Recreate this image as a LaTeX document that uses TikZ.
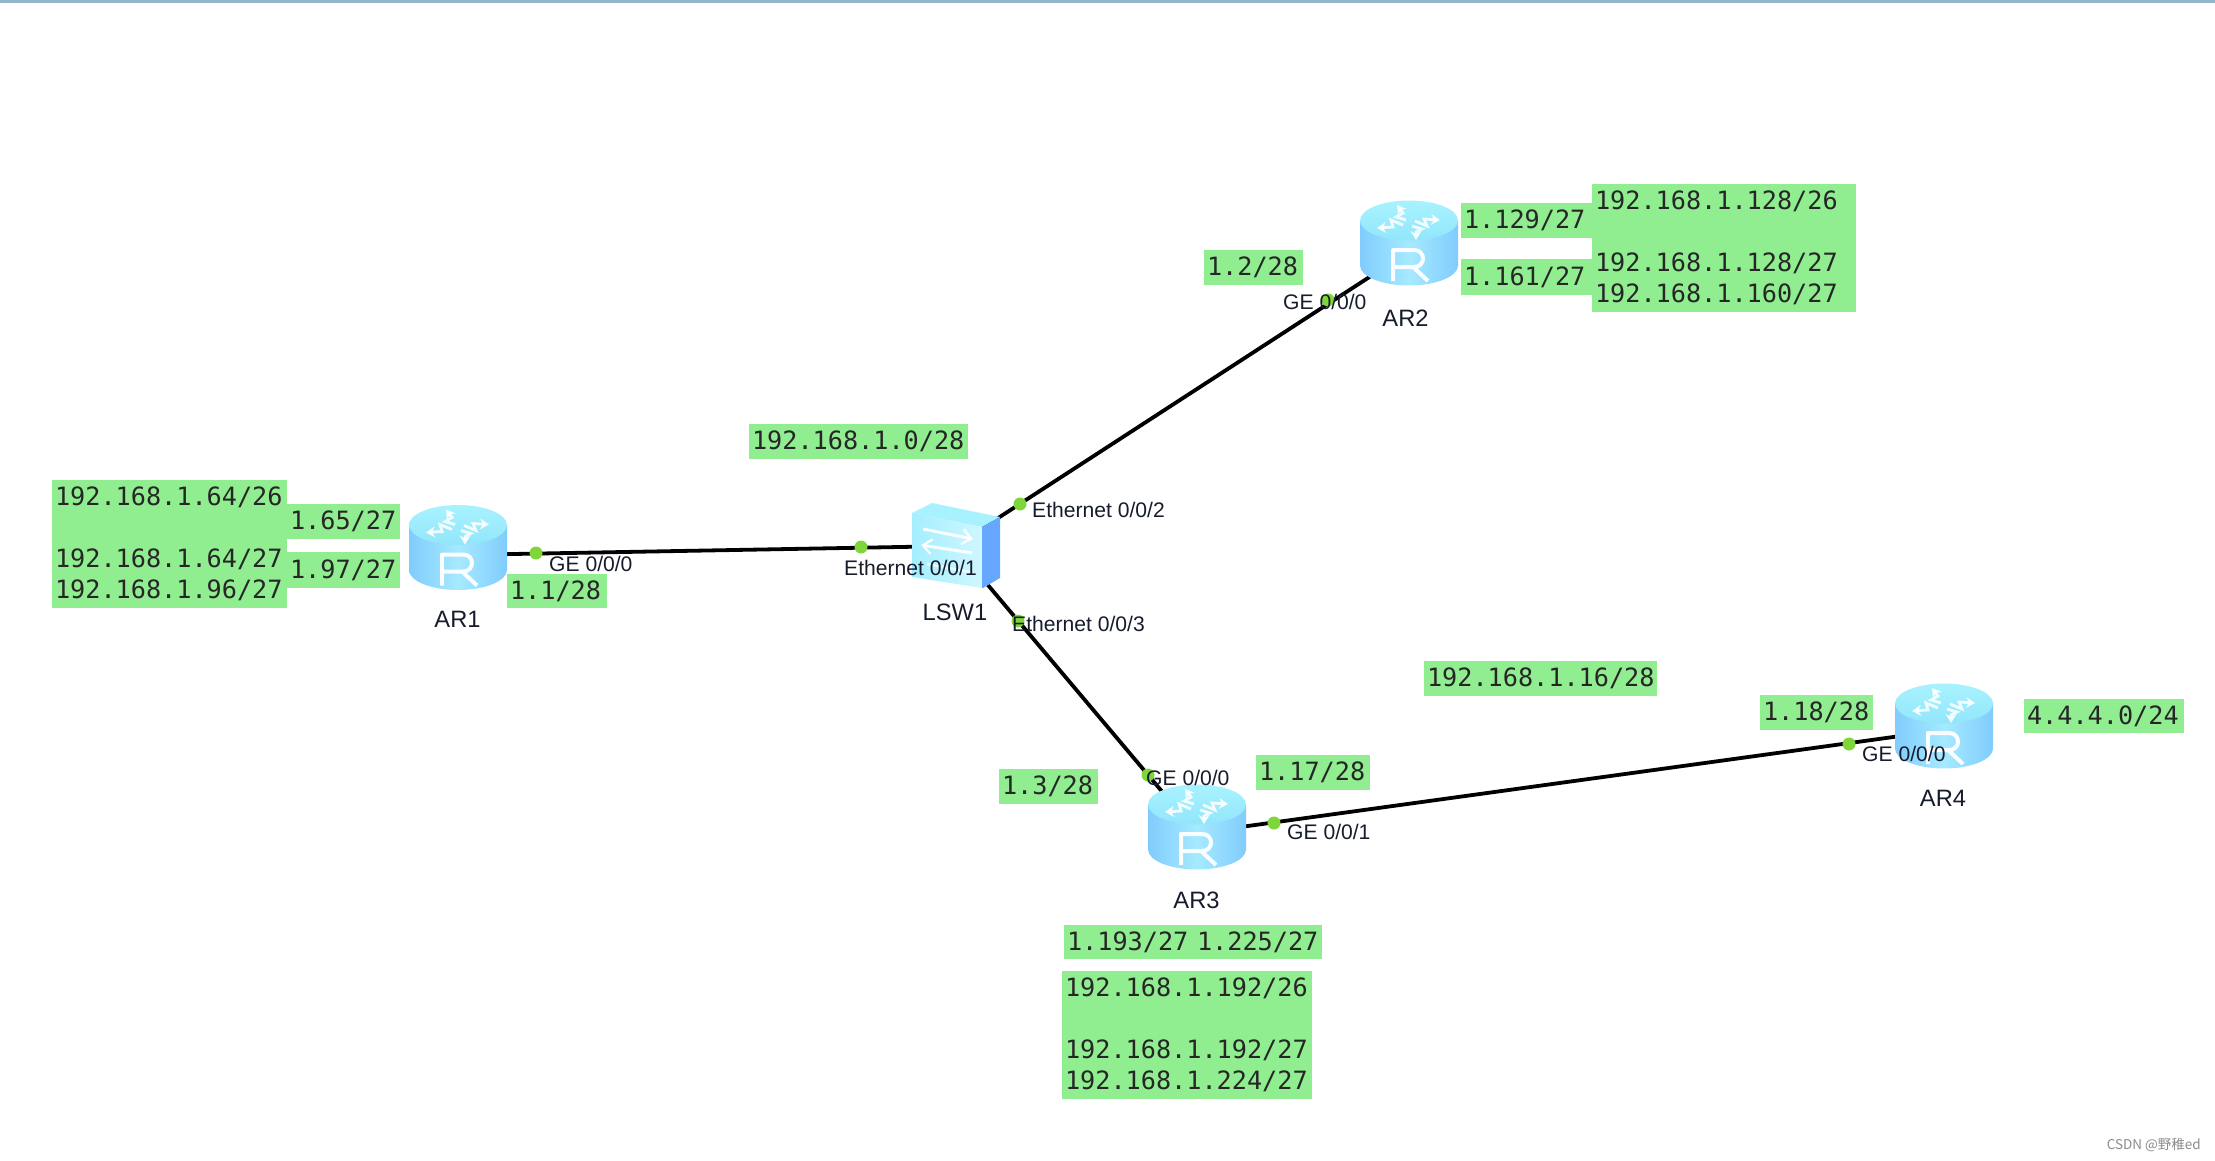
\documentclass[tikz,border=0pt]{standalone}
\usepackage{fontspec}
\setmainfont{Liberation Sans}
\newfontfamily\cjkwm{Noto Sans CJK SC}
\newfontfamily\monolab{DejaVu Sans Mono}
\usetikzlibrary{arrows.meta}
\definecolor{boxgreen}{HTML}{90EE90}
\definecolor{portdot}{HTML}{7ED63A}
\definecolor{labink}{HTML}{161C2C}
\definecolor{barblue}{HTML}{94B4CC}
\definecolor{bodyedge}{HTML}{80CCFD}
\definecolor{bodymid}{HTML}{A6EAFF}
\definecolor{topedge}{HTML}{A8F2FF}
\definecolor{topmid}{HTML}{92E6FB}
\definecolor{sideblue}{HTML}{66A8FF}
\definecolor{frontL}{HTML}{A4EEFF}
\definecolor{frontR}{HTML}{CFF7FF}
\tikzset{
  anchorbox/.style={inner sep=0pt,minimum width=60pt,minimum height=60pt},
  link/.style={draw=black,line width=3.8pt},
  portmark/.style={circle,fill=portdot,inner sep=0pt,minimum size=13pt},
  portlabel/.style={font=\fontsize{21.1}{24}\selectfont,text=labink,inner sep=0pt,anchor=west},
  devlabel/.style={font=\fontsize{23.7}{26}\selectfont,text=labink,inner sep=0pt},
  gboxstyle/.style={fill=boxgreen,inner xsep=3pt,inner ysep=0pt,align=left,
    font=\monolab\fontsize{25.2}{31}\selectfont,text=black!85},
  iconarrow/.style={draw=white,opacity=.85,line width=2.8pt,-{Stealth[length=9pt,width=11pt]}},
  swarrow/.style={draw=white,opacity=.9,line width=3pt,-{Straight Barb[length=9pt,width=15pt,line width=2.4pt]}},
}
\newcommand{\gbox}[6]{%
  \pgfmathsetlengthmacro{\gw}{(#4-#2)*1pt}%
  \pgfmathsetlengthmacro{\gtw}{(#4-#2-6)*1pt}%
  \pgfmathsetlengthmacro{\gh}{(#5-#3)*1pt}%
  \node[gboxstyle,minimum width=\gw,minimum height=\gh,text width=\gtw]
    (#1) at ({(#2+#4)/2},{(#3+#5)/2}) {#6};}
\newcommand{\routericon}[2]{%
  \begin{scope}[shift={(#1,#2)}]
    \shade[left color=bodyedge,right color=bodyedge,middle color=bodymid]
      (-49,-22.5) -- (-49,22.5) .. controls (-49,33.5) and (-27,42.5) .. (0,42.5)
      .. controls (27,42.5) and (49,33.5) .. (49,22.5) -- (49,-22.5) -- cycle;
    \shade[top color=topedge,bottom color=topmid]
      (-49,-22.5) .. controls (-49,-11.5) and (-27,-2.5) .. (0,-2.5)
      .. controls (27,-2.5) and (49,-11.5) .. (49,-22.5)
      .. controls (49,-33.5) and (27,-42.5) .. (0,-42.5)
      .. controls (-27,-42.5) and (-49,-33.5) .. (-49,-22.5) -- cycle;
    \begin{scope}[yshift=20pt]
    \draw[iconarrow] (-6,2) -- (-18,-3) -- (-16,4) -- (-32,5);
    \draw[iconarrow] (-3,-3) -- (-13,-6) -- (-6,-10) -- (-12,-18);
    \draw[iconarrow] (6,-2) -- (18,3) -- (15,-4) -- (31,-3);
    \draw[iconarrow] (3,3) -- (13,6) -- (7,9) -- (7,17);
    \end{scope}
    \draw[white,line width=4pt,opacity=.95,line join=round]
      (-16,38) -- (-16,7) -- (5,7) .. controls (17,7) and (17,24) .. (5,24) -- (-16,24)
      (4,24) -- (19,38);
  \end{scope}}
\newcommand{\switchicon}[2]{%
  \begin{scope}[shift={(#1,#2)}]
    \fill[topedge] (-43,-33) -- (-23,-43) -- (45,-29) -- (27,-19) -- cycle;
    \shade[left color=frontL,right color=frontR]
      (-43,-33) -- (27,-19) -- (27,42) -- (-43,31) -- cycle;
    \fill[sideblue] (27,-19) -- (45,-29) -- (45,32) -- (28,42) -- (27,42) -- cycle;
    \draw[swarrow] (-32,-17) -- (18,-7);
    \draw[swarrow] (17,7) -- (-34,-1);
    \draw[draw=white,line width=2.4pt,opacity=.7] (-28,18) -- (15,26);
  \end{scope}}
\begin{document}
\begin{tikzpicture}[x=1pt,y=-1pt]
\useasboundingbox (0,0) rectangle (2215,1161);
\fill[white] (0,0) rectangle (2215,1161);
\fill[barblue] (0,0) rectangle (2215,3.5);
% device anchors (links run centre to centre, behind the icons)
\node[anchorbox] (AR1) at (458,555) {};
\node[anchorbox] (AR2) at (1408,252) {};
\node[anchorbox] (AR3) at (1197,833) {};
\node[anchorbox] (AR4) at (1944,730) {};
\node[anchorbox] (LSW1) at (955,546) {};
\draw[link] (AR1.center) -- (LSW1.center);
\draw[link] (LSW1.center) -- (AR2.center);
\draw[link] (LSW1.center) -- (AR3.center);
\draw[link] (AR3.center) -- (AR4.center);
% icons
\routericon{458}{547.5}
\routericon{1409}{243}
\routericon{1197}{827}
\routericon{1944}{726}
\switchicon{955}{546}
% port marks
\node[portmark] (p1) at (536,553) {};
\node[portmark] (p2) at (861,547) {};
\node[portmark] (p3) at (1020,504) {};
\node[portmark] (p4) at (1328,300) {};
\node[portmark] (p5) at (1018,621) {};
\node[portmark] (p6) at (1148,775) {};
\node[portmark] (p7) at (1274,823) {};
\node[portmark] (p8) at (1849,744) {};
% port labels
\node[portlabel] (l1) at (549,564) {GE 0/0/0};
\node[portlabel] (l2) at (844,568) {Ethernet 0/0/1};
\node[portlabel] (l3) at (1032,510) {Ethernet 0/0/2};
\node[portlabel] (l4) at (1012,624) {Ethernet 0/0/3};
\node[portlabel] (l5) at (1146,778) {GE 0/0/0};
\node[portlabel] (l6) at (1287,832) {GE 0/0/1};
\node[portlabel] (l7) at (1283,302) {GE 0/0/0};
\node[portlabel] (l8) at (1862,754) {GE 0/0/0};
% device labels
\node[devlabel] (n1) at (457.5,619) {AR1};
\node[devlabel] (n2) at (955,612) {LSW1};
\node[devlabel] (n3) at (1405.5,318) {AR2};
\node[devlabel] (n4) at (1196.5,900) {AR3};
\node[devlabel] (n5) at (1943,798) {AR4};
% green address boxes
\gbox{b1}{52}{480}{287}{608}{192.168.1.64/26\\~\\192.168.1.64/27\\192.168.1.96/27}
\gbox{b2}{287}{504}{400}{539}{1.65/27}
\gbox{b3}{287}{552}{400}{588}{1.97/27}
\gbox{b4}{507}{574}{607}{608}{1.1/28}
\gbox{b5}{749}{424}{968}{459}{192.168.1.0/28}
\gbox{b6}{1204}{250}{1303}{285}{1.2/28}
\gbox{b7}{1461}{203}{1592}{238}{1.129/27}
\gbox{b8}{1461}{259}{1592}{295}{1.161/27}
\gbox{b9}{1592}{184}{1856}{312}{192.168.1.128/26\\~\\192.168.1.128/27\\192.168.1.160/27}
\gbox{b10}{1424}{661}{1657}{696}{192.168.1.16/28}
\gbox{b11}{1760}{695}{1873}{730}{1.18/28}
\gbox{b12}{2024}{699}{2184}{733}{4.4.4.0/24}
\gbox{b13}{1256}{755}{1370}{790}{1.17/28}
\gbox{b14}{999}{769}{1098}{804}{1.3/28}
\gbox{b15}{1064}{925}{1194}{959}{1.193/27}
\gbox{b16}{1194}{925}{1322}{959}{1.225/27}
\gbox{b17}{1062}{971}{1312}{1099}{192.168.1.192/26\\~\\192.168.1.192/27\\192.168.1.224/27}
% watermark
\node[inner sep=0pt,anchor=east,text=black!45,font=\cjkwm\fontsize{13.5}{15}\selectfont] (wm) at (2201,1145) {CSDN @野稚ed};
\end{tikzpicture}
\end{document}
